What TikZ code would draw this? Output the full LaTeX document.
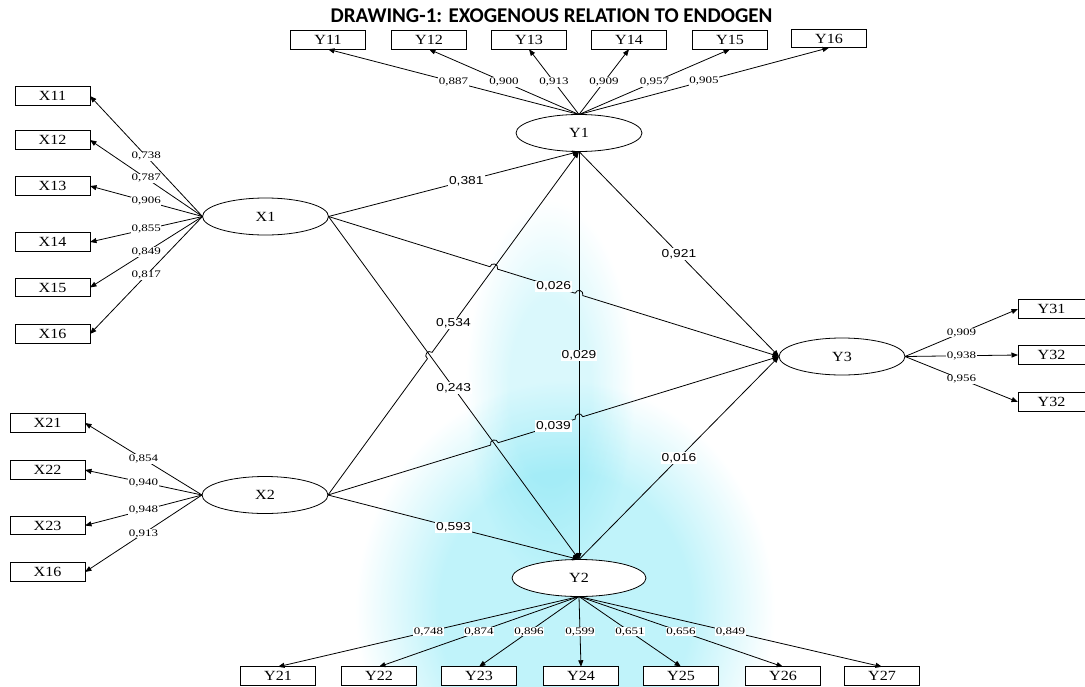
\documentclass[tikz,border=0pt]{standalone}
\usepackage{fontspec}
\setmainfont{Liberation Serif}
\newfontfamily\nodefont[FakeStretch=1.15]{Liberation Serif}
\newfontfamily\ldfont[FakeStretch=1.3]{Liberation Serif}
\newfontfamily\pathfont[FakeStretch=1.2]{Liberation Sans}
\newfontfamily\titlefont{Carlito}
\usetikzlibrary{arrows.meta,calc,shapes.geometric}
\definecolor{wm}{RGB}{192,243,250}
\definecolor{wmlight}{RGB}{218,248,252}
\pgfdeclareradialshading{wmshade}{\pgfpoint{0bp}{0bp}}{color(0bp)=(wm); color(15bp)=(wm); color(25bp)=(white); color(50bp)=(white)}
\pgfdeclareradialshading{wmshadeb}{\pgfpoint{0bp}{0bp}}{color(0bp)=(wmlight); color(12bp)=(wmlight); color(25bp)=(white); color(50bp)=(white)}
\begin{document}
\begin{tikzpicture}[x=1pt,y=-1pt,
 ind/.style={draw, line width=0.8pt, fill=white, minimum width=75pt, minimum height=18.5pt, inner sep=0pt, outer sep=0pt, font=\nodefont\fontsize{14}{14}\selectfont},
 lat/.style={draw, ellipse, line width=0.8pt, fill=white, minimum width=126pt, minimum height=37pt, inner sep=0pt, outer sep=0pt, font=\nodefont\fontsize{14}{14}\selectfont},
 arr/.style={line width=0.8pt, -{Triangle[length=6.5pt,width=5pt]}},
 ld/.style={fill=white, inner sep=0.6pt, font=\ldfont\fontsize{10}{10}\selectfont},
 pc/.style={fill=white, inner sep=1pt, font=\pathfont\fontsize{11.5}{11.5}\selectfont}]
\useasboundingbox (0,0) rectangle (1085,686);
% background watermark
\begin{scope}[blend group=multiply]
\clip (0,0) rectangle (1085,686);
\shade[shading=wmshadeb] (550,390) ellipse [x radius=85, y radius=190];
\shade[shading=wmshade] (565,610) ellipse [x radius=210, y radius=230];
\end{scope}
% title
\node[anchor=base, inner sep=0pt, font=\titlefont\bfseries\fontsize{21}{21}\selectfont] (title) at (551.5,22) {DRAWING-1: EXOGENOUS RELATION TO ENDOGEN};
% latent variables
\node[lat] (Y1) at (579,133) {Y1};
\node[lat] (X1) at (265.5,216.5) {X1};
\node[lat] (X2) at (265,495) {X2};
\node[lat] (Y3) at (842,356.5) {Y3};
\node[lat, minimum width=134pt] (Y2) at (579,578) {Y2};
% indicators
\node[ind] (Y11) at (328,40) {Y11};
\node[ind] (Y12) at (429,40) {Y12};
\node[ind] (Y13) at (529,40) {Y13};
\node[ind] (Y14) at (629,40) {Y14};
\node[ind] (Y15) at (730,40) {Y15};
\node[ind] (Y16) at (829,38.5) {Y16};
\node[ind] (X11) at (52.5,96) {X11};
\node[ind] (X12) at (52.5,140) {X12};
\node[ind] (X13) at (52.5,186) {X13};
\node[ind] (X14) at (52.5,242) {X14};
\node[ind] (X15) at (52.5,287.5) {X15};
\node[ind] (X16) at (52.5,334) {X16};
\node[ind] (X21) at (47.5,423) {X21};
\node[ind] (X22) at (47.5,470) {X22};
\node[ind] (X23) at (47.5,525.5) {X23};
\node[ind] (X16b) at (47.5,572) {X16};
\node[ind, minimum width=67pt] (Y31) at (1051.5,309) {Y31};
\node[ind, minimum width=67pt] (Y32) at (1051.5,355) {Y32};
\node[ind, minimum width=67pt] (Y33) at (1051.5,402) {Y32};
\node[ind] (Y21) at (278,676) {Y21};
\node[ind] (Y22) at (379,676) {Y22};
\node[ind] (Y23) at (479,676) {Y23};
\node[ind] (Y24) at (581,676) {Y24};
\node[ind] (Y25) at (681,676) {Y25};
\node[ind] (Y26) at (783,676) {Y26};
\node[ind] (Y27) at (882,676) {Y27};
% loadings
\foreach \n/\v in {11/887,12/900,13/913,14/909,15/957,16/905}
  \draw[arr] (Y1.north) -- (Y\n.south) node[ld,pos=0.5]{0,\v};
\foreach \n/\v in {11/738,12/787,13/906,14/855,15/849,16/817}
  \draw[arr] (X1.west) -- (X\n.east) node[ld,pos=0.5]{0,\v};
\foreach \n/\v in {21/854,22/940,23/948,16b/913}
  \draw[arr] (X2.west) -- (X\n.east) node[ld,pos=0.5]{0,\v};
\foreach \n/\v in {31/909,32/938,33/956}
  \draw[arr] (Y3.east) -- (Y\n.west) node[ld,pos=0.5]{0,\v};
\foreach \n/\v in {21/748,22/874,23/896,24/599,25/651,26/656,27/849}
  \draw[arr] (Y2.south) -- (Y\n.north) node[ld,pos=0.5]{0,\v};
% hop coordinates
\coordinate (hA1) at (489.9,266.7); \coordinate (cA1) at (491.5,261.6);
\coordinate (cA2) at (499.1,264.0); \coordinate (hA2) at (497.5,269.1);
\coordinate (hB1) at (575.2,293.2); \coordinate (cB1) at (576.8,288.1);
\coordinate (cB2) at (584.4,290.5); \coordinate (hB2) at (582.8,295.6);
\coordinate (hC1) at (490.6,445.1); \coordinate (cC1) at (489.0,440.0);
\coordinate (cC2) at (496.6,437.6); \coordinate (hC2) at (498.2,442.7);
\coordinate (hD1) at (575.2,419.1); \coordinate (cD1) at (573.6,414.0);
\coordinate (cD2) at (581.2,411.6); \coordinate (hD2) at (582.8,416.7);
\coordinate (hE1) at (427.4,358.7); \coordinate (cE1) at (423.1,355.6);
\coordinate (cE2) at (427.8,349.2); \coordinate (hE2) at (432.1,352.3);
% structural paths
\draw[arr] (X1.east) -- (Y1.south) node[pc,pos=0.55]{0,381};
\draw[arr] (Y1.south) -- (Y3.west) node[pc,pos=0.5]{0,921};
\draw[arr] (Y1.south) -- (Y2.north) node[pc,pos=0.5]{0,029};
\draw[arr] (Y2.north) -- (Y3.west) node[pc,pos=0.5]{0,016};
\draw[arr] (X2.east) -- (Y2.north) node[pc,pos=0.5]{0,593};
\draw[arr] (X1.east) -- (Y2.north) node[pc,pos=0.5]{0,243};
\draw[arr] (X1.east) -- (hA1) .. controls (cA1) and (cA2) .. (hA2) -- (hB1) .. controls (cB1) and (cB2) .. (hB2) -- (Y3.west);
\node[pc] at ($(X1.east)!0.5!(Y3.west)$) {0,026};
\draw[arr] (X2.east) -- (hC1) .. controls (cC1) and (cC2) .. (hC2) -- (hD1) .. controls (cD1) and (cD2) .. (hD2) -- (Y3.west);
\node[pc] at ($(X2.east)!0.5!(Y3.west)$) {0,039};
\draw[arr] (X2.east) -- (hE1) .. controls (cE1) and (cE2) .. (hE2) -- (Y1.south);
\node[pc] at ($(X2.east)!0.5!(Y1.south)$) {0,534};
\end{tikzpicture}
\end{document}
